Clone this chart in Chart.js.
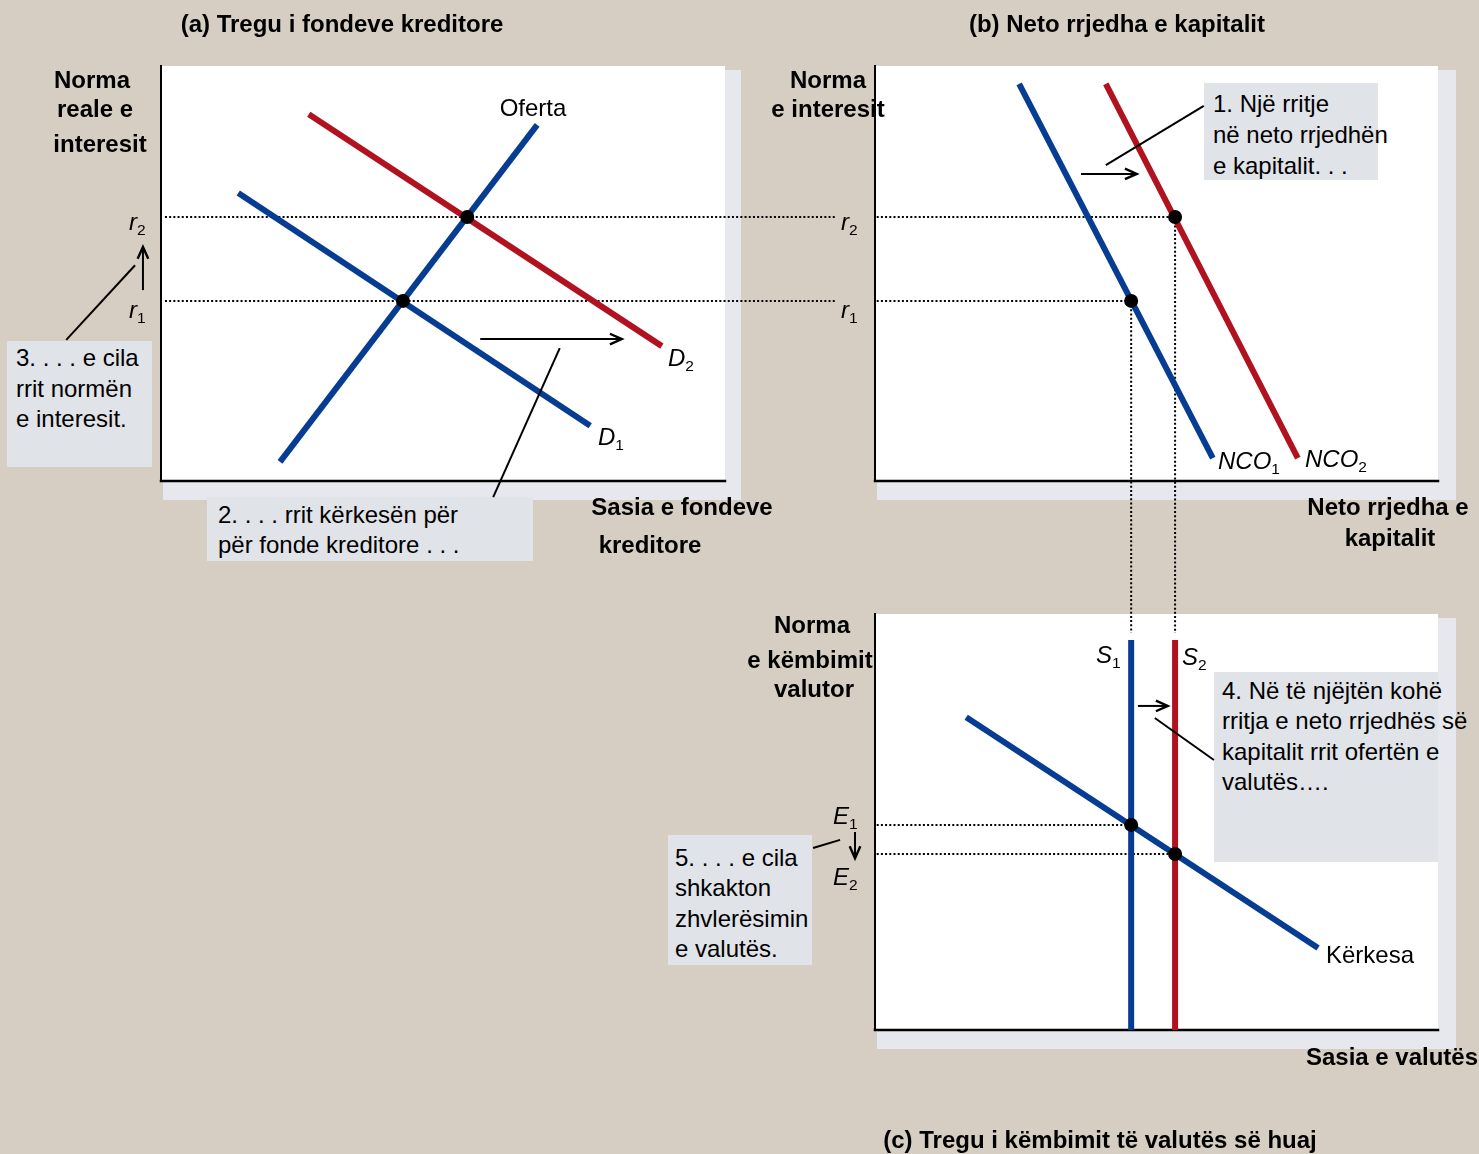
<!DOCTYPE html>
<html>
<head>
<meta charset="utf-8">
<script src="https://cdn.jsdelivr.net/npm/chart.js@4.4.1/dist/chart.umd.min.js"></script>
<style>
  html,body{margin:0;padding:0;background:#d6cec3;}
  #root{position:relative;width:1479px;height:1154px;overflow:hidden;background:#d6cec3;font-family:"Liberation Sans",Arial,Helvetica,sans-serif;color:#000;}
  .shadow{position:absolute;background:#e6e8ee;}
  .panel{position:absolute;background:#ffffff;}
  .box{position:absolute;background:#e0e3e8;font-size:24px;line-height:30.5px;white-space:nowrap;box-sizing:border-box;}
  canvas{position:absolute;left:0;top:0;}
  .t{position:absolute;white-space:nowrap;font-size:24px;}
  .b{font-weight:bold;}
  .i{font-style:italic;}
  .i sub{font-style:normal;font-size:15.5px;vertical-align:-5px;line-height:0;}
</style>
</head>
<body>
<div id="root">
  <div class="shadow" style="left:163px;top:70px;width:578px;height:430px"></div>
  <div class="shadow" style="left:877px;top:70px;width:579px;height:430px"></div>
  <div class="shadow" style="left:877px;top:618px;width:579px;height:431px"></div>
  <div class="panel" style="left:161px;top:66px;width:564px;height:415px"></div>
  <div class="panel" style="left:875px;top:66px;width:563px;height:415px"></div>
  <div class="panel" style="left:875px;top:614px;width:563px;height:416px"></div>

  <div class="box" style="left:7px;top:341px;width:145px;height:126px;padding:2px 0 0 9px">3. . . . e cila<br>rrit normën<br>e interesit.</div>
  <div class="box" style="left:207px;top:497px;width:326px;height:64px;padding:3px 0 0 11px;line-height:30px">2. . . . rrit kërkesën për<br>për fonde kreditore . . .</div>
  <div class="box" style="left:1204px;top:83px;width:174px;height:97px;padding:5px 0 0 9px;line-height:31px">1. Një rritje<br>në neto rrjedhën<br>e kapitalit. . .</div>
  <div class="box" style="left:1214px;top:672px;width:224px;height:190px;padding:4px 0 0 8px;line-height:30.3px">4. Në të njëjtën kohë<br>rritja e neto rrjedhës së<br>kapitalit rrit ofertën e<br>valutës….</div>
  <div class="box" style="left:668px;top:835px;width:144px;height:130px;padding:8px 0 0 7px;line-height:30.3px">5. . . . e cila<br>shkakton<br>zhvlerësimin<br>e valutës.</div>

  <canvas id="cA" width="1479" height="1154"></canvas>
  <canvas id="cB" width="1479" height="1154"></canvas>
  <canvas id="cC" width="1479" height="1154"></canvas>
  <div id="labels"></div>
</div>
<script>
// ---------- DATA ----------
// Panel (a): loanable funds market (values on 0-100 scales)
const supplyX   = [21.1, 66.7];
const supplyY   = [4.6, 85.8];
const demand1X  = [13.7, 76.1];
const demand1Y  = [69.4, 13.3];
const demand2X  = [26.2, 88.8];
const demand2Y  = [88.4, 32.5];
const loanEqX   = [42.9, 54.3];     // quantity at r1, r2
const rates     = [43.4, 63.6];     // r1, r2
// Panel (b): net capital outflow
const nco1X     = [25.6, 60.0];
const nco1Y     = [95.7, 5.5];
const nco2X     = [41.0, 75.1];
const nco2Y     = [95.7, 5.5];
const ncoEqX    = [45.5, 53.3];     // NCO at r1, r2
// Panel (c): foreign-currency exchange market
const fxSupplyX = [45.5, 53.3];     // S1, S2 (vertical)
const fxSupplyY = [0, 93.75];
const fxDemandX = [16.2, 78.7];
const fxDemandY = [75.2, 19.7];
const exchRates = [49.3, 42.3];     // E1, E2
// Tick-like labels
const rateLabels = ['r', 'r'];
const exchLabels = ['E', 'E'];

const BLUE = '#063d93', RED = '#b0121f', W = 1479, H = 1154;

function pts(xs, ys){ return xs.map((x,i)=>({x, y: ys[i]})); }
function curve(xs, ys, color){ return {type:'line', data:pts(xs,ys), borderColor:color, borderWidth:6, pointRadius:0, fill:false, clip:false, borderCapStyle:'butt', order:1}; }
function dotted(xs, ys){ return {type:'line', data:pts(xs,ys), borderColor:'#000', borderWidth:2, borderDash:[2,2.2], pointRadius:0, fill:false, clip:false, order:2}; }
function dots(xs, ys){ return {type:'scatter', data:pts(xs,ys), showLine:false, pointRadius:7, pointBackgroundColor:'#000', pointBorderWidth:0, clip:false, order:0}; }

function drawArrow(ctx, s, a){
  const x1 = s.x.getPixelForValue(a.from[0]), y1 = s.y.getPixelForValue(a.from[1]);
  const x2 = s.x.getPixelForValue(a.to[0]),   y2 = s.y.getPixelForValue(a.to[1]);
  ctx.save();
  ctx.strokeStyle = '#000'; ctx.fillStyle = '#000'; ctx.lineWidth = 2;
  ctx.beginPath(); ctx.moveTo(x1,y1); ctx.lineTo(x2,y2); ctx.stroke();
  if (a.head){
    const ang = Math.atan2(y2-y1, x2-x1), L = 13, sp = 0.42;
    ctx.lineWidth = 2.4;
    ctx.beginPath();
    ctx.moveTo(x2 - L*Math.cos(ang-sp), y2 - L*Math.sin(ang-sp));
    ctx.lineTo(x2, y2);
    ctx.lineTo(x2 - L*Math.cos(ang+sp), y2 - L*Math.sin(ang+sp));
    ctx.stroke();
  }
  ctx.restore();
}

function makeChart(id, area, datasets, arrows){
  return new Chart(document.getElementById(id), {
    type: 'line',
    data: { datasets },
    options: {
      responsive: false, animation: false, devicePixelRatio: 1, events: [],
      layout: { padding: { left: area.l, top: area.t, right: W - area.r, bottom: H - area.b } },
      plugins: { legend: {display:false}, tooltip: {enabled:false} },
      scales: {
        x: { type:'linear', display:false, min:0, max:100 },
        y: { type:'linear', display:false, min:0, max:100 }
      }
    },
    plugins: [{
      id: 'axesArrows',
      beforeDatasetsDraw(chart){
        const ctx = chart.ctx, ca = chart.chartArea;
        ctx.save(); ctx.strokeStyle = '#000'; ctx.lineCap = 'square';
        ctx.lineWidth = 2; ctx.beginPath(); ctx.moveTo(ca.left, ca.top); ctx.lineTo(ca.left, ca.bottom); ctx.stroke();
        ctx.lineWidth = 2.5; ctx.beginPath(); ctx.moveTo(ca.left, ca.bottom); ctx.lineTo(ca.right, ca.bottom); ctx.stroke();
        ctx.restore();
      },
      afterDatasetsDraw(chart){
        const s = {x: chart.scales.x, y: chart.scales.y};
        arrows.forEach(a => drawArrow(chart.ctx, s, a));
      }
    }]
  });
}

// Panel (a)
makeChart('cA', {l:161, t:66, r:725, b:481}, [
  dots(loanEqX, rates),
  curve(demand2X, demand2Y, RED),
  curve(supplyX, supplyY, BLUE),
  curve(demand1X, demand1Y, BLUE),
  dotted([0.7, 119.5], [rates[0], rates[0]]),
  dotted([0.7, 119.5], [rates[1], rates[1]])
], [
  {from:[56.6,34.2], to:[81.7,34.2], head:true},
  {from:[58.9,-3.9], to:[70.7,32.0]},
  {from:[-3.2,46.0], to:[-3.2,56.4], head:true},
  {from:[-16.8,34.0], to:[-4.6,52.0]}
]);

// Panel (b)
makeChart('cB', {l:875, t:66, r:1438, b:481}, [
  dots(ncoEqX, rates),
  curve(nco2X, nco2Y, RED),
  curve(nco1X, nco1Y, BLUE),
  dotted([0.3, ncoEqX[0]], [rates[0], rates[0]]),
  dotted([0.3, ncoEqX[1]], [rates[1], rates[1]]),
  dotted([ncoEqX[0], ncoEqX[0]], [rates[0], -36.6]),
  dotted([ncoEqX[1], ncoEqX[1]], [rates[1], -36.6])
], [
  {from:[36.6,74.0], to:[46.5,74.0], head:true},
  {from:[41.0,76.1], to:[58.4,90.4]}
]);

// Panel (c)
makeChart('cC', {l:875, t:614, r:1438, b:1030}, [
  dots(fxSupplyX, exchRates),
  curve(fxDemandX, fxDemandY, BLUE),
  curve([fxSupplyX[1], fxSupplyX[1]], fxSupplyY, RED),
  curve([fxSupplyX[0], fxSupplyX[0]], fxSupplyY, BLUE),
  dotted([0.3, fxSupplyX[0]], [exchRates[0], exchRates[0]]),
  dotted([0.3, fxSupplyX[1]], [exchRates[1], exchRates[1]])
], [
  {from:[46.7,77.9], to:[52.0,77.9], head:true},
  {from:[49.7,75.0], to:[60.2,64.9]},
  {from:[-3.55,47.6], to:[-3.55,41.3], head:true},
  {from:[-11.0,43.75], to:[-6.2,45.7]}
]);

// ---------- TEXT LABELS ----------
const labelsEl = document.getElementById('labels');
function txt(html, x, y, align, cls, size){
  const d = document.createElement('div');
  d.className = 't ' + (cls || '');
  d.innerHTML = html;
  const lh = 30;
  d.style.lineHeight = lh + 'px';
  d.style.top = (y - lh/2) + 'px';
  if (size) d.style.fontSize = size + 'px';
  if (align === 'c'){ d.style.left = x + 'px'; d.style.transform = 'translateX(-50%)'; }
  else if (align === 'r'){ d.style.right = (W - x) + 'px'; }
  else { d.style.left = x + 'px'; }
  labelsEl.appendChild(d);
}
// titles
txt('(a) Tregu i fondeve kreditore', 342, 24, 'c', 'b', 24);
txt('(b) Neto rrjedha e kapitalit', 1117, 24, 'c', 'b', 24);
txt('(c) Tregu i këmbimit të valutës së huaj', 1100, 1140, 'c', 'b', 24);
// panel a
txt('Norma', 92, 80, 'c', 'b');
txt('reale e', 95, 109, 'c', 'b');
txt('interesit', 100, 144, 'c', 'b');
txt('Oferta', 533, 108, 'c', '');
txt('D<sub>2</sub>', 668, 358, 'l', 'i');
txt('D<sub>1</sub>', 598, 437, 'l', 'i');
txt(rateLabels[1] + '<sub>2</sub>', 129, 222, 'l', 'i');
txt(rateLabels[0] + '<sub>1</sub>', 129, 310, 'l', 'i');
txt('Sasia e fondeve', 682, 507, 'c', 'b');
txt('kreditore', 650, 545, 'c', 'b');
// panel b
txt('Norma', 828, 80, 'c', 'b');
txt('e interesit', 828, 109, 'c', 'b');
txt(rateLabels[1] + '<sub>2</sub>', 841, 222, 'l', 'i');
txt(rateLabels[0] + '<sub>1</sub>', 841, 310, 'l', 'i');
txt('NCO<sub>1</sub>', 1218, 461, 'l', 'i');
txt('NCO<sub>2</sub>', 1305, 459, 'l', 'i');
txt('Neto rrjedha e', 1388, 507, 'c', 'b');
txt('kapitalit', 1390, 538, 'c', 'b');
// panel c
txt('Norma', 812, 625, 'c', 'b');
txt('e këmbimit', 810, 660, 'c', 'b');
txt('valutor', 814, 689, 'c', 'b');
txt('S<sub>1</sub>', 1096, 655, 'l', 'i');
txt('S<sub>2</sub>', 1182, 657, 'l', 'i');
txt(exchLabels[0] + '<sub>1</sub>', 833, 816, 'l', 'i');
txt(exchLabels[1] + '<sub>2</sub>', 833, 877, 'l', 'i');
txt('Kërkesa', 1326, 955, 'l', '');
txt('Sasia e valutës', 1392, 1057, 'c', 'b');
</script>
</body>
</html>
